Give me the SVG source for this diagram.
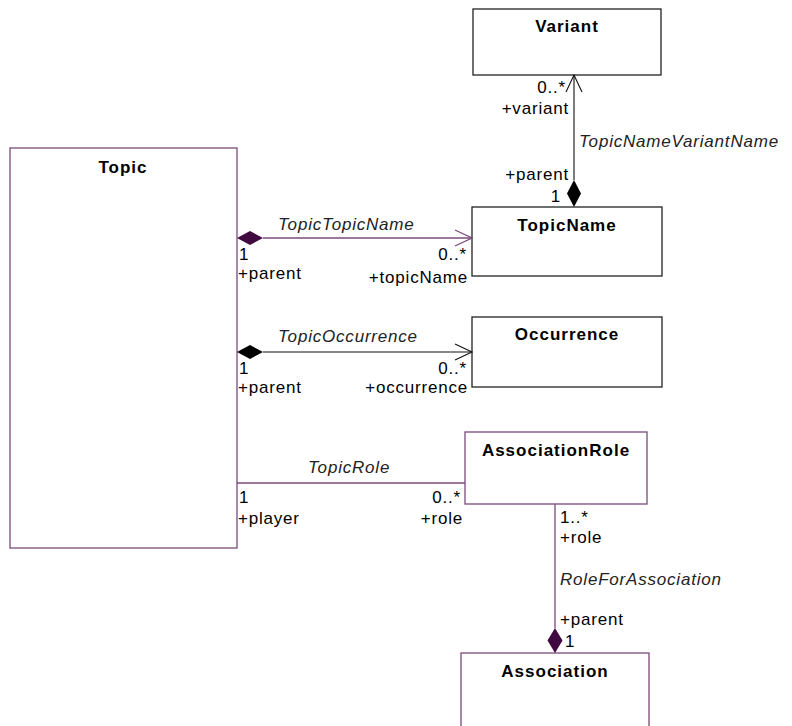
<svg xmlns="http://www.w3.org/2000/svg" width="792" height="726" viewBox="0 0 792 726">
<style>
.box{fill:#fff;stroke-width:1.3}
.pb{stroke:#7a4a7a}
.bb{stroke:#222}
.name{font-family:"Liberation Sans",Arial,sans-serif;font-weight:bold;font-size:17px;letter-spacing:1px;text-anchor:middle;fill:#000}
.t{font-family:"Liberation Sans",Arial,sans-serif;font-size:17px;letter-spacing:0.8px;fill:#000}
.i{font-style:italic;fill:#222}
.e{text-anchor:end}
.pl{stroke:#7a4a7a;stroke-width:1.3;fill:none}
.bl{stroke:#111;stroke-width:1.1;fill:none}
</style>
<rect width="792" height="726" fill="#fff"/>
<g id="Variant">
<rect class="box bb" x="473" y="9" width="188" height="66"/>
<text class="name" x="567" y="32">Variant</text>
</g>
<g id="TopicName">
<rect class="box bb" x="472" y="207" width="190" height="69"/>
<text class="name" x="567" y="231">TopicName</text>
</g>
<g id="Occurrence">
<rect class="box bb" x="472" y="317" width="190" height="70"/>
<text class="name" x="567" y="340">Occurrence</text>
</g>
<g id="Topic">
<rect class="box pb" x="10" y="148" width="227" height="400"/>
<text class="name" x="123" y="173">Topic</text>
</g>
<g id="AssociationRole">
<rect class="box pb" x="465" y="432" width="182" height="72"/>
<text class="name" x="556" y="456">AssociationRole</text>
</g>
<g id="Association">
<rect class="box pb" x="461" y="653" width="188" height="80"/>
<text class="name" x="555" y="677">Association</text>
</g>
<g id="connectors">
<line class="bl" x1="574" y1="180" x2="574" y2="75"/>
<polyline class="bl" points="566,92 574,75 582,92"/>
<polygon points="574,180 581,193.5 574,207 567,193.5" fill="#000"/>
<text class="t e" x="566" y="93">0..*</text>
<text class="t e" x="569" y="114">+variant</text>
<text class="t i" x="579" y="147">TopicNameVariantName</text>
<text class="t e" x="569" y="180">+parent</text>
<text class="t e" x="561" y="202">1</text>
<line class="pl" x1="263" y1="238" x2="472" y2="238"/>
<polyline class="pl" points="455,230 472,238 455,246"/>
<polygon points="237,238 250,231 263,238 250,245" fill="#400a40"/>
<text class="t i" x="278" y="230">TopicTopicName</text>
<text class="t" x="239" y="260">1</text>
<text class="t" x="238" y="279">+parent</text>
<text class="t e" x="467" y="260">0..*</text>
<text class="t e" x="468" y="283">+topicName</text>
<line class="bl" x1="263" y1="352" x2="472" y2="352"/>
<polyline class="bl" points="455,344 472,352 455,360"/>
<polygon points="237,352 250,345 263,352 250,359" fill="#000"/>
<text class="t i" x="278" y="342">TopicOccurrence</text>
<text class="t" x="239" y="374">1</text>
<text class="t" x="238" y="393">+parent</text>
<text class="t e" x="467" y="374">0..*</text>
<text class="t e" x="468" y="393">+occurrence</text>
<line class="pl" x1="237" y1="483" x2="465" y2="483"/>
<text class="t i" x="308" y="473">TopicRole</text>
<text class="t" x="239" y="503">1</text>
<text class="t" x="238" y="524">+player</text>
<text class="t e" x="461" y="503">0..*</text>
<text class="t e" x="463" y="524">+role</text>
<line class="pl" x1="555" y1="504" x2="555" y2="628"/>
<polygon points="555,628 562.5,640.5 555,653 547.5,640.5" fill="#400a40"/>
<text class="t" x="560" y="523">1..*</text>
<text class="t" x="560" y="543">+role</text>
<text class="t i" x="560" y="585">RoleForAssociation</text>
<text class="t" x="560" y="625">+parent</text>
<text class="t" x="565" y="647">1</text>
</g>
</svg>
